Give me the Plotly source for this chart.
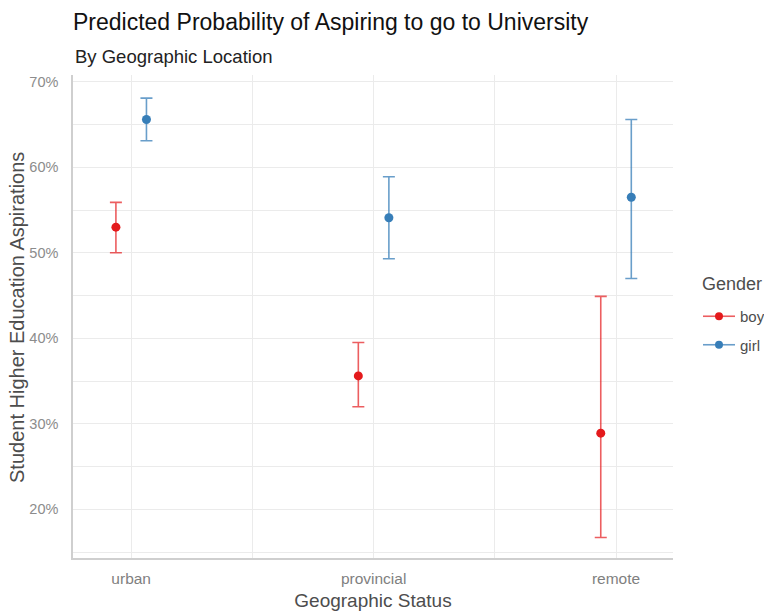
import plotly.graph_objects as go

categories = ["urban", "provincial", "remote"]
genders = ["boy", "girl"]
colors = {"boy": "#E41A1C", "girl": "#377EB8"}
bar_colors = {"boy": "rgba(228,26,28,0.7)", "girl": "rgba(55,126,184,0.75)"}

boy_est = [0.530, 0.356, 0.289]
boy_low = [0.500, 0.320, 0.167]
boy_high = [0.559, 0.395, 0.449]

girl_est = [0.656, 0.541, 0.565]
girl_low = [0.631, 0.493, 0.470]
girl_high = [0.681, 0.589, 0.656]

data = {
    "boy": (boy_est, boy_low, boy_high),
    "girl": (girl_est, girl_low, girl_high),
}
dodge = {"boy": -0.063, "girl": 0.063}

FONT = "Liberation Sans, Arial, sans-serif"
W, H = 764, 611
LEFT, RIGHT, TOP, BOTTOM = 73, 673, 75, 558

fig = go.Figure()
for g in genders:
    est, low, high = data[g]
    xs = [i + 1 + dodge[g] for i in range(len(categories))]
    fig.add_trace(go.Scatter(
        x=xs, y=est, mode="markers", showlegend=False,
        marker=dict(color=colors[g], size=9),
        error_y=dict(type="data", symmetric=False,
                     array=[h - e for h, e in zip(high, est)],
                     arrayminus=[e - l for e, l in zip(est, low)],
                     color=bar_colors[g], thickness=1.6, width=6),
        hoverinfo="skip",
    ))
for g in genders:
    fig.add_trace(go.Scatter(
        x=[None], y=[None], mode="lines+markers", name=g, legendgroup=g,
        line=dict(color=bar_colors[g], width=1.6),
        marker=dict(color=colors[g], size=8),
    ))

def py(pix):
    return (BOTTOM - pix) / (BOTTOM - TOP)

def px_(pix):
    return (pix - LEFT) / (RIGHT - LEFT)

fig.update_layout(
    width=W, height=H,
    margin=dict(l=LEFT, r=W - RIGHT, t=TOP, b=H - BOTTOM),
    plot_bgcolor="white", paper_bgcolor="white",
    font=dict(family=FONT),
    title=dict(text="Predicted Probability of Aspiring to go to University",
               x=0, xref="paper", xanchor="left",
               y=1 - 22 / H, yref="container", yanchor="middle",
               font=dict(size=23, color="#111111")),
    annotations=[
        dict(text="By Geographic Location", x=0, xref="paper",
             xanchor="left", y=py(56), yref="paper",
             yanchor="middle", showarrow=False,
             font=dict(size=18.5, color="#222222")),
        dict(text="Gender", x=px_(700), xref="paper",
             xanchor="left", y=py(284), yref="paper",
             yanchor="middle", showarrow=False,
             font=dict(size=18, color="#4d4d4d")),
        dict(text="Student Higher Education Aspirations", textangle=-90,
             x=px_(17), xref="paper", xanchor="center",
             y=py(318), yref="paper", yanchor="middle", showarrow=False,
             font=dict(size=20, color="#4d4d4d")),
    ],
    legend=dict(xref="container", yref="container",
                x=698 / W, xanchor="left", y=1 - 300 / H, yanchor="top",
                font=dict(size=15, color="#4d4d4d"), tracegroupgap=6,
                itemwidth=32, bgcolor="rgba(0,0,0,0)"),
    showlegend=True,
)

fig.update_xaxes(
    range=[0.76, 3.235], tickvals=[1, 2, 3], ticktext=categories,
    showgrid=True, gridcolor="#ebebeb", gridwidth=1,
    minor=dict(tickvals=[1.5, 2.5], showgrid=True, gridcolor="#ebebeb", gridwidth=1),
    showline=True, linecolor="#cfcfcf", linewidth=1.5,
    zeroline=False, ticks="", ticklabelstandoff=6, automargin=False,
    tickfont=dict(size=15.5, color="#7f7f7f"),
    title=dict(text="Geographic Status", font=dict(size=19, color="#4d4d4d"), standoff=7),
)
fig.update_yaxes(
    range=[0.143, 0.708], tickvals=[0.2, 0.3, 0.4, 0.5, 0.6, 0.7],
    tickformat=".0%",
    showgrid=True, gridcolor="#ebebeb", gridwidth=1,
    minor=dict(tickvals=[0.15, 0.25, 0.35, 0.45, 0.55, 0.65], showgrid=True,
               gridcolor="#ebebeb", gridwidth=1),
    showline=True, linecolor="#cfcfcf", linewidth=1.5,
    zeroline=False, ticks="", ticklabelstandoff=10, automargin=False,
    tickfont=dict(size=14.5, color="#8c8c8c"),
)

fig.write_html("out.html")
